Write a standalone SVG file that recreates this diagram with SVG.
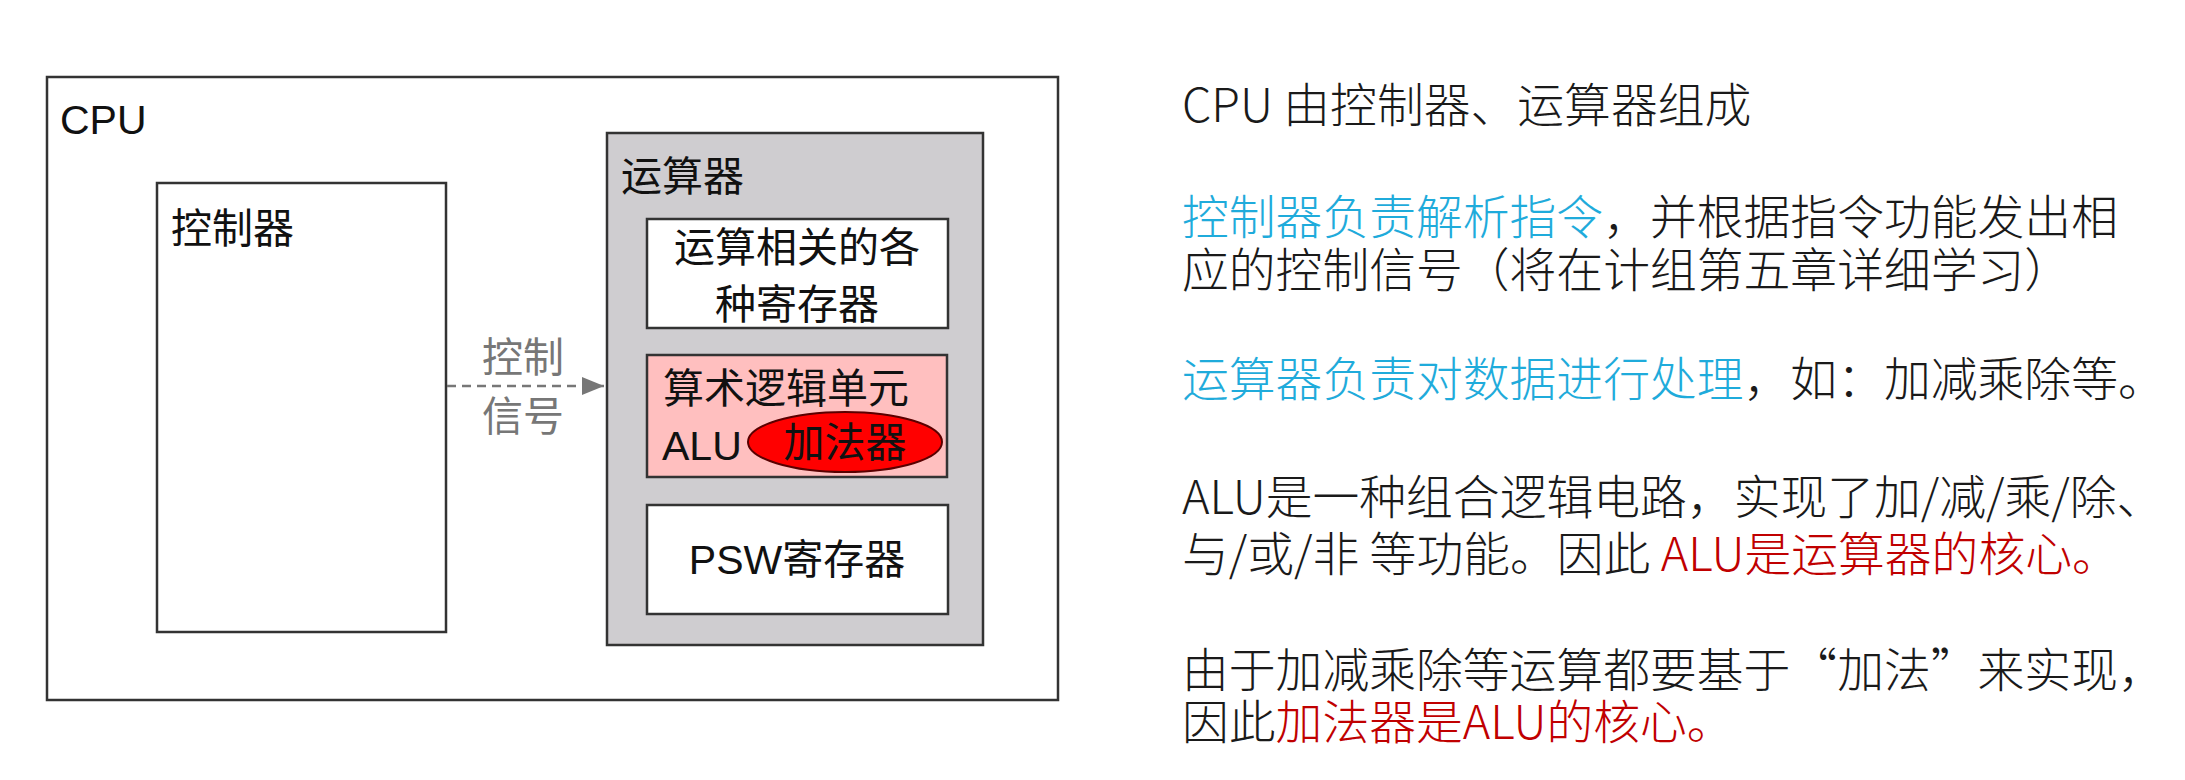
<svg xmlns="http://www.w3.org/2000/svg" width="2185" height="780" viewBox="0 0 2185 780">
<defs>
<style>
.box{stroke:#333;stroke-width:2.5}
.lt{font-family:"Liberation Sans","Noto Sans CJK SC",sans-serif;font-size:41px;fill:#111}
.cj{font-family:"Liberation Sans","Noto Sans CJK SC",sans-serif;font-size:41px;fill:#111}
.gray{fill:#777}
.rt{font-family:"Noto Sans CJK SC",sans-serif;font-size:46.8px;font-weight:300;fill:#1a1a1a}
.cy{fill:#1fabdb}
.rd{fill:#c00000}
</style>
<marker id="arr" markerWidth="24" markerHeight="20" refX="22" refY="9" orient="auto" markerUnits="userSpaceOnUse">
<path d="M0,0 L22,9 L0,18 Z" fill="#777"/>
</marker>
</defs>
<rect width="2185" height="780" fill="#ffffff"/>
<g id="cpu">
<rect class="box" x="47" y="77" width="1011" height="623" fill="#ffffff"/>
<text class="lt" x="60" y="134" font-size="40">CPU</text>
</g>
<g id="controller">
<rect class="box" x="157" y="183" width="289" height="449" fill="#ffffff"/>
<text class="cj" x="171" y="243">控制器</text>
</g>
<g id="alu-unit">
<rect class="box" x="607" y="133" width="376" height="512" fill="#cfcdd0"/>
<text class="cj" x="621" y="191">运算器</text>
</g>
<g id="registers">
<rect class="box" x="647" y="219" width="301" height="109" fill="#ffffff"/>
<text class="cj" x="797" y="262" text-anchor="middle">运算相关的各</text>
<text class="cj" x="797" y="319" text-anchor="middle">种寄存器</text>
</g>
<g id="alu">
<rect class="box" x="647" y="355" width="300" height="122" fill="#ffbfbf"/>
<text class="cj" x="663" y="403">算术逻辑单元</text>
<text class="lt" x="662" y="460" font-size="40">ALU</text>
</g>
<g id="adder">
<ellipse cx="845" cy="442" rx="97" ry="30" fill="#ff0000" stroke="#5a0000" stroke-width="2"/>
<text class="cj" x="845" y="457" text-anchor="middle">加法器</text>
</g>
<g id="psw">
<rect class="box" x="647" y="505" width="301" height="109" fill="#ffffff"/>
<text class="lt" x="797" y="574" text-anchor="middle" font-size="40">PSW寄存器</text>
</g>
<g id="connectors">
<line x1="447" y1="386" x2="604" y2="386" stroke="#777" stroke-width="2.5" stroke-dasharray="9 6" marker-end="url(#arr)"/>
<text class="cj gray" x="523" y="372" text-anchor="middle">控制</text>
<text class="cj gray" x="523" y="431" text-anchor="middle">信号</text>
</g>
<g id="notes">
<text class="rt" x="1182" y="122">CPU 由控制器、运算器组成</text>
<text class="rt" x="1182" y="234"><tspan class="cy">控制器负责解析指令</tspan>，并根据指令功能发出相</text>
<text class="rt" x="1182" y="287">应的控制信号（将在计组第五章详细学习）</text>
<text class="rt" x="1182" y="396"><tspan class="cy">运算器负责对数据进行处理</tspan>，如：加减乘除等。</text>
<text class="rt" x="1182" y="514">ALU是一种组合逻辑电路，实现了加/减/乘/除、</text>
<text class="rt" x="1182" y="571">与/或/非 等功能。因此 <tspan class="rd">ALU是运算器的核心。</tspan></text>
<text class="rt" x="1182" y="687">由于加减乘除等运算都要基于“加法”来实现，</text>
<text class="rt" x="1182" y="739">因此<tspan class="rd">加法器是ALU的核心。</tspan></text>
</g>
</svg>
